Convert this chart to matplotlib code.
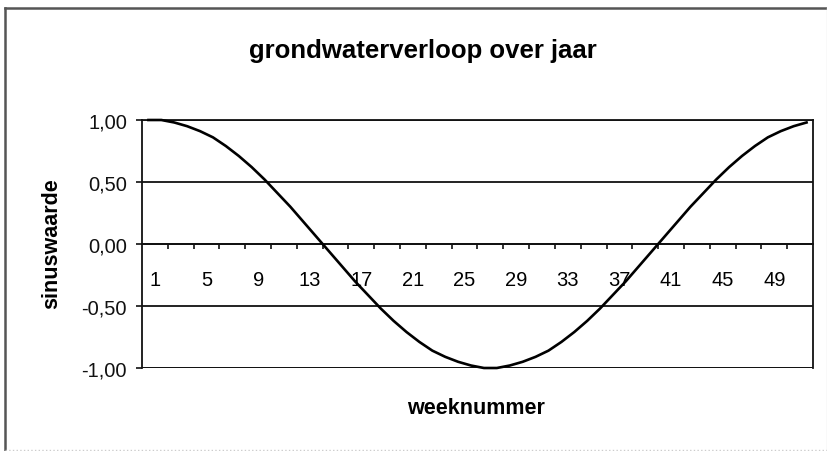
import matplotlib
matplotlib.use('Agg')
import matplotlib.pyplot as plt
from matplotlib.lines import Line2D
from matplotlib.ticker import FixedLocator, FuncFormatter, NullFormatter

plt.rcParams['font.family'] = ['Liberation Sans', 'DejaVu Sans']

# weekly groundwater value (sine value) over the year
weeks = list(range(1, 53))
sinuswaarde = [1.00, 1.00, 0.98, 0.95, 0.91, 0.86, 0.79, 0.71, 0.62, 0.52,
               0.41, 0.30, 0.18, 0.06, -0.06, -0.18, -0.30, -0.41, -0.52, -0.62,
               -0.71, -0.79, -0.86, -0.91, -0.95, -0.98, -1.00, -1.00, -0.98, -0.95,
               -0.91, -0.86, -0.79, -0.71, -0.62, -0.52, -0.41, -0.30, -0.18, -0.06,
               0.06, 0.18, 0.30, 0.41, 0.52, 0.62, 0.71, 0.79, 0.86, 0.91,
               0.95, 0.98]
week_labels = list(range(1, 50, 4))
week_ticks = list(range(2, 51, 2))
y_ticks = [-1.0, -0.5, 0.0, 0.5, 1.0]

W, H = 828, 452
fig = plt.figure(figsize=(W/100, H/100), dpi=100)
fig.patch.set_facecolor('white')

# plot area in pixels: x 142..813, y 121..369
ax = fig.add_axes([142/W, 1 - 369/H, (813 - 142)/W, (369 - 121)/H])

# category axis: points sit in the middle of each week slot
xpos = [w - 0.5 for w in weeks]
ax.plot(xpos, sinuswaarde, color='black', lw=1.9, clip_on=False, zorder=5)

ax.set_xlim(0, 52)
ax.set_ylim(-1, 1)

for s in ax.spines.values():
    s.set_linewidth(1.3)
    s.set_color('#111111')
ax.spines['bottom'].set_position(('data', 0))
ax.axhline(-1, color='#111111', lw=1.3, zorder=3)

ax.yaxis.set_major_locator(FixedLocator(y_ticks))
ax.yaxis.set_major_formatter(FuncFormatter(lambda v, p: f'{v:.2f}'.replace('.', ',')))
ax.yaxis.grid(True, color='#111111', lw=1.3)
ax.set_axisbelow(True)
ax.tick_params(axis='y', direction='out', length=4.3, width=1.2, pad=6.5,
               labelsize=14.5, colors='#111111')

# tick marks every 2 weeks on the zero line, labels every 4 weeks
ax.xaxis.set_major_locator(FixedLocator(week_ticks))
ax.xaxis.set_major_formatter(NullFormatter())
ax.xaxis.set_minor_locator(FixedLocator(week_labels))
ax.xaxis.set_minor_formatter(FuncFormatter(lambda v, p: f'{int(round(v))}'))
ax.tick_params(axis='x', which='major', direction='out', length=3.8, width=1.2,
               colors='#111111')
ax.tick_params(axis='x', which='minor', length=0, pad=19, labelsize=14.5)

fig.text(423/W, 1 - 51/H, 'grondwaterverloop over jaar', ha='center', va='center',
         fontsize=18.5, fontweight='bold')
fig.text(52/W, 1 - 244/H, 'sinuswaarde', ha='center', va='center', rotation=90,
         fontsize=15.5, fontweight='bold')
fig.text(476/W, 1 - 409/H, 'weeknummer', ha='center', va='center',
         fontsize=15.5, fontweight='bold')

# outer chart frame
fig.add_artist(Line2D([5.5/W, 1], [1 - 9/H, 1 - 9/H], color='#555555', lw=1.8))
fig.add_artist(Line2D([5.5/W, 5.5/W], [0, 1 - 9/H], color='#555555', lw=1.8))
fig.add_artist(Line2D([5.5/W, 1], [1 - 451/H, 1 - 451/H], color='#cccccc', lw=1.0, ls=':'))
fig.add_artist(Line2D([827/W, 827/W], [0, 1 - 9/H], color='#e2e2e2', lw=1.0))

fig.savefig('out.png', dpi=100)
